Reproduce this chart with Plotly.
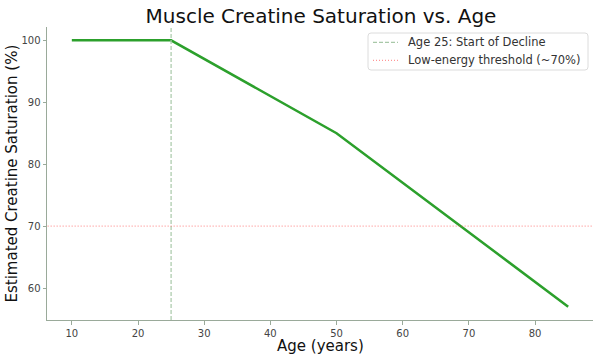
import plotly.graph_objects as go

ages = [10, 25, 50, 85]
saturation = [100, 100, 85, 57]
decline_age = 25
threshold = 70
x_ticks = [10, 20, 30, 40, 50, 60, 70, 80]
y_ticks = [60, 70, 80, 90, 100]
legend_labels = ["Age 25: Start of Decline", "Low-energy threshold (~70%)"]

VLINE = dict(color="#a8c8a8", width=1.2, dash="4px,2px")
HLINE = dict(color="rgba(255,80,80,0.6)", width=1.2, dash="1px,2px")

fig = go.Figure()
fig.add_trace(go.Scatter(x=ages, y=saturation, mode="lines",
                         line=dict(color="#2ca02c", width=2.5), showlegend=False))
fig.add_trace(go.Scatter(x=[decline_age, decline_age], y=[50, 110], mode="lines",
                         name=legend_labels[0], line=VLINE, showlegend=False))
fig.add_trace(go.Scatter(x=[0, 100], y=[threshold, threshold], mode="lines",
                         name=legend_labels[1], line=HLINE, showlegend=False))

# plot area in pixels: left 47, right 593, top 27, bottom 320
W, H = 546, 293
def px(x):
    return (x - 47) / W
def py(y):
    return (320 - y) / H

# manual legend box (rounded)
bx0, bx1, by0, by1 = px(368), px(588), py(70), py(33)
rx, ry = 3 / W, 3 / H
path = (f"M {bx0+rx},{by0} L {bx1-rx},{by0} Q {bx1},{by0} {bx1},{by0+ry} "
        f"L {bx1},{by1-ry} Q {bx1},{by1} {bx1-rx},{by1} L {bx0+rx},{by1} "
        f"Q {bx0},{by1} {bx0},{by1-ry} L {bx0},{by0+ry} Q {bx0},{by0} {bx0+rx},{by0} Z")
shapes = [dict(type="path", path=path, xref="paper", yref="paper",
               line=dict(color="#dcdcdc", width=1), fillcolor="rgba(255,255,255,0.8)")]
annotations = []
for i, (lab, ln) in enumerate(zip(legend_labels, [VLINE, HLINE])):
    yy = py(42.3 + 18 * i)
    shapes.append(dict(type="line", xref="paper", yref="paper",
                       x0=px(373), x1=px(398), y0=yy, y1=yy, line=ln))
    annotations.append(dict(text=lab, xref="paper", yref="paper", x=px(406), y=yy,
                            xanchor="left", yanchor="middle", showarrow=False,
                            font=dict(size=11.5, color="#333")))

annotations += [
    dict(text="Age (years)", xref="paper", yref="paper", x=0.5, y=0,
         xanchor="center", yanchor="top", yshift=-15, showarrow=False,
         font=dict(size=15, color="#111")),
    dict(text="Estimated Creatine Saturation (%)", xref="paper", yref="paper",
         x=0, y=0.5, xanchor="right", yanchor="middle", xshift=-25,
         textangle=-90, showarrow=False, font=dict(size=15, color="#111")),
]

fig.update_layout(
    width=600, height=357,
    margin=dict(l=47, r=7, t=27, b=37, autoexpand=False),
    paper_bgcolor="white", plot_bgcolor="white",
    font=dict(family="DejaVu Sans", color="#222"),
    title=dict(text="Muscle Creatine Saturation vs. Age", x=0.535, xanchor="center",
               y=0.956, yanchor="middle", font=dict(size=20, color="#111")),
    showlegend=False,
    xaxis=dict(range=[6.25, 88.75], tickvals=x_ticks, showgrid=False, zeroline=False,
               showline=True, linecolor="#9aaa9a", linewidth=1, automargin=False,
               ticks="outside", ticklen=3.5, tickcolor="#9aaa9a",
               tickfont=dict(size=10, color="#444")),
    yaxis=dict(range=[54.85, 102.15], tickvals=y_ticks, showgrid=False, zeroline=False,
               showline=True, linecolor="#9aaa9a", linewidth=1, automargin=False,
               ticks="outside", ticklen=3.5, tickcolor="#9aaa9a",
               tickfont=dict(size=10, color="#444")),
    shapes=shapes,
    annotations=annotations,
)

fig.write_html("out.html", config={"displayModeBar": False},
               post_script="document.body.style.margin='0';")
